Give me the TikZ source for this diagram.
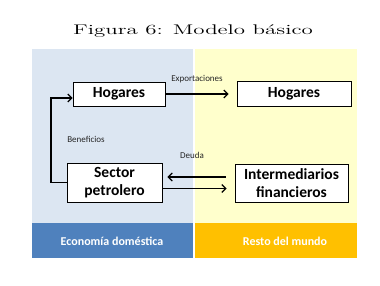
\documentclass[tikz,border=0pt]{standalone}
\usepackage{fontspec}
\usepackage{graphicx}
\newfontfamily\carlito{Carlito}
\usetikzlibrary{arrows.meta}
\definecolor{panelblue}{HTML}{DCE6F2}
\definecolor{panelyellow}{HTML}{FFFFCC}
\definecolor{barblue}{HTML}{4F81BD}
\definecolor{barorange}{HTML}{FFC000}
\tikzset{
  box/.style={draw=black, line width=0.8pt, fill=white, align=center, inner sep=0pt,
    font=\carlito\bfseries\fontsize{15.5}{17.5}\selectfont},
  arr/.style={line width=1.4pt, -{Straight Barb[length=4pt,width=8pt,line width=1.2pt]}},
  lbl/.style={font=\carlito\fontsize{9}{10}\selectfont, text=black!85, inner sep=0pt},
  barlbl/.style={font=\carlito\bfseries\fontsize{12}{14}\selectfont, text=white, inner sep=0pt}
}
\begin{document}
\begin{tikzpicture}[x=1pt,y=-1pt]
\useasboundingbox (0,0) rectangle (380,286);
\fill[white] (0,0) rectangle (380,286);
% panels
\fill[panelblue] (32,49) rectangle (193,223);
\fill[panelyellow] (195,49) rectangle (357,223);
\fill[barblue] (32,223) rectangle (193,258);
\fill[barorange] (195,223) rectangle (357,258);
% title
\node[anchor=base, inner sep=0pt] (title) at (193,34.3)
  {\fontsize{14}{16}\selectfont\scalebox{1.64}[1]{Figura 6: Modelo básico}};
% boxes
\node[box, minimum width=92pt, minimum height=24pt] (hogL) at (119,94) {Hogares};
\node[box, minimum width=95pt, minimum height=39pt] (sector) at (114.5,182.5) {Sector\\petrolero};
\node[box, minimum width=114pt, minimum height=25pt] (hogR) at (294,93.5) {Hogares};
\node[box, minimum width=113pt, minimum height=38pt] (inter) at (291.5,183) {Intermediarios\\financieros};
% labels
\node[lbl] (exp) at (197,79) {Exportaciones};
\node[lbl] (ben) at (86,139.5) {Beneficios};
\node[lbl] (deu) at (192,155) {Deuda};
\node[barlbl] (eco) at (112,241.5) {Economía doméstica};
\node[barlbl] (resto) at (285,241.5) {Resto del mundo};
% connectors
\coordinate (c1) at (51,182.5);
\coordinate (c2) at (51,98);
\draw[arr] (sector.west) -- (c1) -- (c2) -- ([yshift=-4pt]hogL.west);
\draw[arr, shorten >=8pt] (hogL.east) -- (hogL.east -| hogR.west);
\draw[arr, shorten <=9pt, shorten >=5pt] ([yshift=6pt]inter.west) -- ([yshift=6pt]inter.west -| sector.east);
\draw[arr, shorten >=8pt] ([yshift=-6pt]sector.east) -- ([yshift=-6pt]sector.east -| inter.west);
\end{tikzpicture}
\end{document}
